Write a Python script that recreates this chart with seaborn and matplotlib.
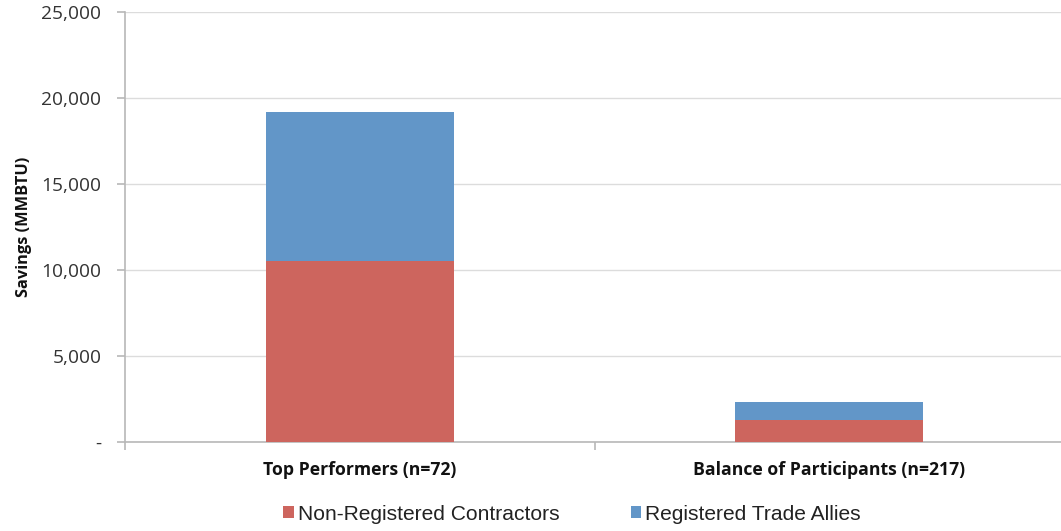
import matplotlib
matplotlib.use("Agg")
import matplotlib.pyplot as plt
from matplotlib.patches import Patch
from matplotlib.ticker import FuncFormatter, FixedLocator
import seaborn as sns
import pandas as pd

# Savings by participant group (MMBTU)
groups = ["Top Performers (n=72)", "Balance of Participants (n=217)"]
non_registered = [10500, 1250]
registered = [8700, 1100]
series_names = ["Non-Registered Contractors", "Registered Trade Allies"]
colors = ["#CD655E", "#6296C8"]

df = pd.DataFrame({
    "group": groups,
    "non_registered": non_registered,
    "total": [a + b for a, b in zip(non_registered, registered)],
})

sns.set_theme(style="white")
plt.rcParams["font.family"] = ["Open Sans", "DejaVu Sans"]

fig = plt.figure(figsize=(10.61, 5.31), dpi=100)
ax = fig.add_axes([125 / 1061, 1 - 442 / 531, 939 / 1061, (442 - 11.7) / 531])

# stacked bars: full height in blue, lower segment in red on top of it
sns.barplot(data=df, x="group", y="total", color=colors[1], width=0.4,
            saturation=1, ax=ax, zorder=2, linewidth=0)
sns.barplot(data=df, x="group", y="non_registered", color=colors[0], width=0.4,
            saturation=1, ax=ax, zorder=3, linewidth=0)

ax.set_xlim(-0.5, 1.5)
ax.set_ylim(0, 25000)
ax.set_yticks(range(0, 25001, 5000))
ax.yaxis.set_major_formatter(FuncFormatter(lambda v, p: "-" if v == 0 else f"{int(v):,}"))
ax.grid(axis="y", color="#DCDCDC", linewidth=1.0, zorder=0)
ax.set_axisbelow(True)

for side in ["top", "right"]:
    ax.spines[side].set_visible(False)
for side in ["left", "bottom"]:
    ax.spines[side].set_color("#B8B8B8")
    ax.spines[side].set_linewidth(1.2)

ax.tick_params(axis="y", which="major", left=True, length=6, width=1.2,
               color="#B8B8B8", labelsize=13.8, labelcolor="#333333", pad=11)
ax.tick_params(axis="x", which="major", bottom=False, labelsize=12.7,
               labelcolor="#111111", pad=8)
ax.xaxis.set_minor_locator(FixedLocator([-0.5, 0.5, 1.5]))
ax.tick_params(axis="x", which="minor", bottom=True, length=6, width=1.2,
               color="#B8B8B8")
for lbl in ax.get_xticklabels():
    lbl.set_fontweight("bold")

ax.set_xlabel("")
ax.set_ylabel("Savings (MMBTU)", fontsize=11.8, fontweight="bold",
              color="#111111", labelpad=7)

handles = [Patch(facecolor=c, edgecolor="none", label=n)
           for c, n in zip(colors, series_names)]
fig.legend(handles=handles, loc="center", bbox_to_anchor=(572 / 1061, 1 - 514 / 531),
           ncol=2, frameon=False, handlelength=0.5, handleheight=0.5,
           handletextpad=0.2, columnspacing=3.4,
           prop={"family": "Liberation Sans", "size": 15.1})
for t in fig.legends[0].get_texts():
    t.set_color("#222222")

fig.savefig("out.png", dpi=100)
